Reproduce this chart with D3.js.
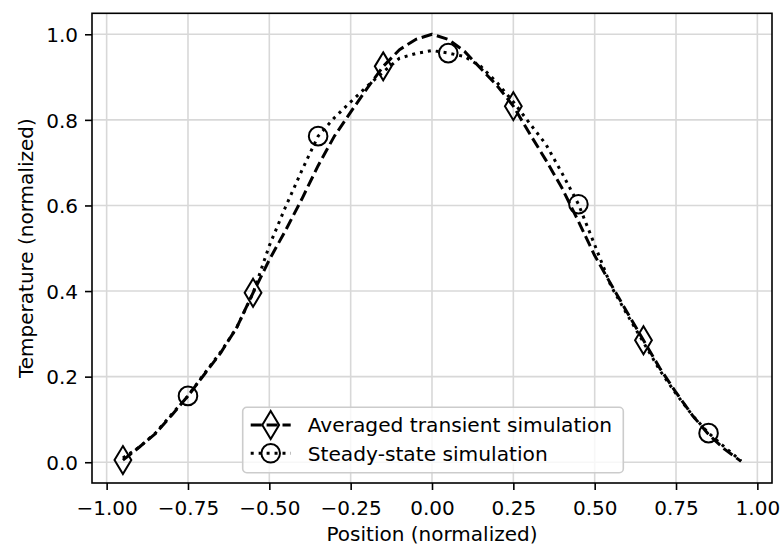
<!DOCTYPE html>
<html>
<head>
<meta charset="utf-8">
<script src="https://cdn.jsdelivr.net/npm/d3@7"></script>
<style>
  body { margin: 0; background: #fff; }
  svg { display: block; font-family: "DejaVu Sans", sans-serif; }
</style>
</head>
<body>
<svg id="graph" width="781" height="545"></svg>
<script>
// posiciones (normalizadas), paso 0.05
const positions = [-0.95, -0.90, -0.85, -0.80, -0.75, -0.70, -0.65, -0.60, -0.55, -0.50,
    -0.45, -0.40, -0.35, -0.30, -0.25, -0.20, -0.15, -0.10, -0.05, 0.00,
    0.05, 0.10, 0.15, 0.20, 0.25, 0.30, 0.35, 0.40, 0.45, 0.50,
    0.55, 0.60, 0.65, 0.70, 0.75, 0.80, 0.85, 0.90, 0.95];
const transient = [0.005, 0.035, 0.067, 0.110, 0.155, 0.205, 0.255, 0.315, 0.396, 0.473,
    0.542, 0.615, 0.693, 0.762, 0.818, 0.873, 0.925, 0.964, 0.988, 1.000,
    0.988, 0.960, 0.920, 0.880, 0.832, 0.768, 0.706, 0.640, 0.563, 0.483,
    0.416, 0.350, 0.285, 0.220, 0.163, 0.110, 0.065, 0.030, 0.002];
const steady = [0.010, 0.035, 0.068, 0.112, 0.155, 0.207, 0.257, 0.315, 0.395, 0.506,
    0.597, 0.682, 0.762, 0.805, 0.842, 0.878, 0.912, 0.944, 0.955, 0.962,
    0.956, 0.948, 0.925, 0.887, 0.842, 0.792, 0.743, 0.675, 0.603, 0.508,
    0.412, 0.345, 0.280, 0.215, 0.160, 0.110, 0.068, 0.035, 0.003];
// indices con marcador (cada 8 puntos)
const transientMarks = [0, 8, 16, 24, 32];
const steadyMarks = [4, 12, 20, 28, 36];
const xTicks = [-1.00, -0.75, -0.50, -0.25, 0.00, 0.25, 0.50, 0.75, 1.00];
const yTicks = [0.0, 0.2, 0.4, 0.6, 0.8, 1.0];
const seriesNames = ["Averaged transient simulation", "Steady-state simulation"];

function creaGrafica() {
    let svg = d3.select("#graph");
    var margin = { top: 13.3, right: 9, bottom: 62, left: 92 };
    var width = +svg.attr("width") - margin.left - margin.right;
    var height = +svg.attr("height") - margin.top - margin.bottom;
    var g = svg.append("g").attr("transform", "translate(" + margin.left + "," + margin.top + ")");

    var x = d3.scaleLinear().domain([-1.045, 1.045]).range([0, width]);
    var y = d3.scaleLinear().domain([-0.0485, 1.049]).range([height, 0]);

    // grid
    g.append("g").selectAll("line").data(xTicks).enter().append("line")
        .attr("x1", d => x(d)).attr("x2", d => x(d))
        .attr("y1", 0).attr("y2", height)
        .attr("stroke", "#d8d8d8").attr("stroke-width", 1.6);
    g.append("g").selectAll("line").data(yTicks).enter().append("line")
        .attr("x1", 0).attr("x2", width)
        .attr("y1", d => y(d)).attr("y2", d => y(d))
        .attr("stroke", "#d8d8d8").attr("stroke-width", 1.6);

    var line = d3.line().x(d => x(d[0])).y(d => y(d[1]));
    var diamond = "M0,-14L8.4,0L0,14L-8.4,0Z";

    function drawSeries(values, dash, marks, shape) {
        let pts = positions.map((p, i) => [p, values[i]]);
        g.append("path")
            .datum(pts)
            .attr("d", line)
            .attr("fill", "none")
            .attr("stroke", "black")
            .attr("stroke-width", 3)
            .attr("stroke-linejoin", "round")
            .attr("stroke-dasharray", dash);
        let m = g.append("g").selectAll("g").data(marks).enter().append("g")
            .attr("transform", i => `translate(${x(positions[i])},${y(values[i])})`);
        if (shape == "diamond") {
            m.append("path").attr("d", diamond);
        } else {
            m.append("circle").attr("r", 9.3);
        }
        m.selectAll("path, circle")
            .attr("fill", "none").attr("stroke", "black").attr("stroke-width", 2);
    }
    drawSeries(transient, "11.1,4.8", transientMarks, "diamond");
    drawSeries(steady, "3,4.95", steadyMarks, "circle");

    // ejes
    var xAxis = d3.axisBottom(x).tickValues(xTicks).tickFormat(d3.format(".2f"))
        .tickSize(7).tickPadding(7);
    var yAxis = d3.axisLeft(y).tickValues(yTicks).tickFormat(d3.format(".1f"))
        .tickSize(7).tickPadding(7);
    var gx = g.append("g").attr("transform", "translate(0," + height + ")").call(xAxis);
    var gy = g.append("g").call(yAxis);
    [gx, gy].forEach(a => {
        a.select(".domain").remove();
        a.selectAll(".tick line").attr("stroke", "black").attr("stroke-width", 1.6);
        a.selectAll(".tick text").attr("fill", "black")
            .style("font-family", "DejaVu Sans").style("font-size", "20px");
    });
    gx.selectAll(".tick text").attr("dy", null).attr("y", 32);
    gy.selectAll(".tick text").attr("dy", "0.36em");

    // marco
    g.append("rect").attr("width", width).attr("height", height)
        .attr("fill", "none").attr("stroke", "black").attr("stroke-width", 1.6);

    // labels
    svg.append("text")
        .attr("x", margin.left + width / 2).attr("y", 541)
        .style("text-anchor", "middle").style("font-size", "20px")
        .text("Position (normalized)");
    svg.append("text")
        .attr("transform", "translate(33," + (margin.top + height / 2) + ") rotate(-90)")
        .style("text-anchor", "middle").style("font-size", "20px")
        .text("Temperature (normalized)");

    // leyenda
    var leg = svg.append("g").attr("transform", "translate(242.7,407.3)");
    leg.append("rect").attr("width", 380.6).attr("height", 65.4)
        .attr("rx", 4).attr("ry", 4)
        .attr("fill", "white").attr("fill-opacity", 0.8)
        .attr("stroke", "#cccccc").attr("stroke-width", 1.6);
    const legendStyles = [
        { dash: "11.1,4.8", shape: "diamond" },
        { dash: "3,4.95", shape: "circle" }
    ];
    let espaciado = 28.3;
    seriesNames.forEach((name, i) => {
        let row = leg.append("g").attr("transform", `translate(0,${17.7 + i * espaciado})`);
        row.append("line").attr("x1", 8).attr("x2", 48)
            .attr("stroke", "black").attr("stroke-width", 3)
            .attr("stroke-dasharray", legendStyles[i].dash);
        if (legendStyles[i].shape == "diamond") {
            row.append("path").attr("d", diamond).attr("transform", "translate(28,0)")
                .attr("fill", "none").attr("stroke", "black").attr("stroke-width", 2);
        } else {
            row.append("circle").attr("cx", 28).attr("r", 9.3)
                .attr("fill", "none").attr("stroke", "black").attr("stroke-width", 2);
        }
        row.append("text").attr("x", 65).attr("dy", "0.36em")
            .style("font-size", "20.2px").text(name);
    });
}

creaGrafica();
</script>
</body>
</html>
